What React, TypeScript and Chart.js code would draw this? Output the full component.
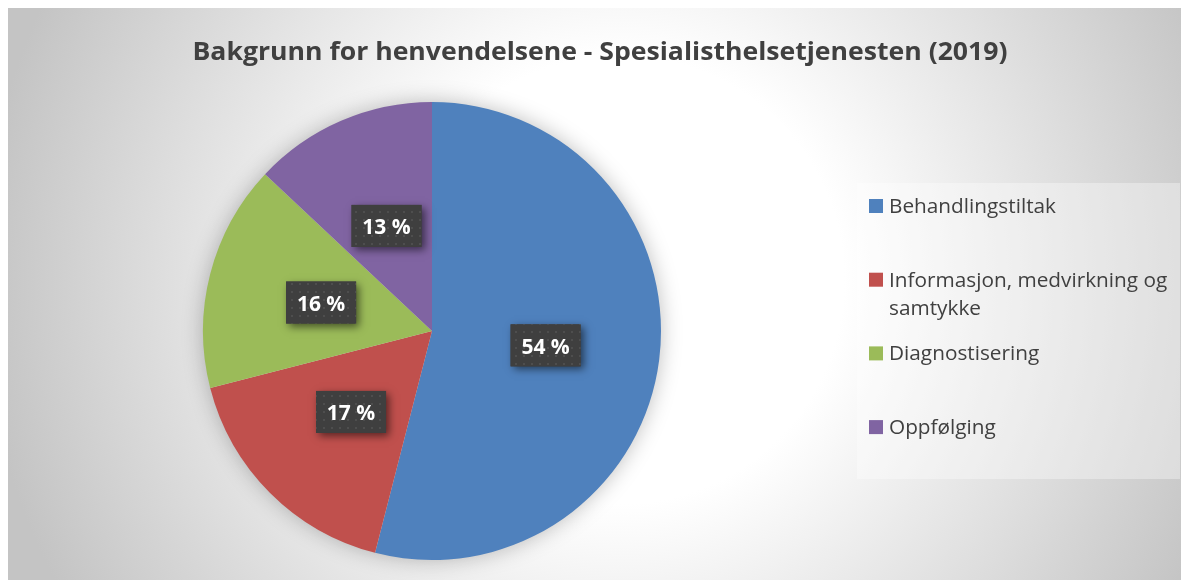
import React, { useEffect, useRef } from "react";
import { Chart, registerables } from "chart.js";

Chart.register(...registerables);

const titleText = "Bakgrunn for henvendelsene - Spesialisthelsetjenesten (2019)";
const categories = [
  "Behandlingstiltak",
  "Informasjon, medvirkning og samtykke",
  "Diagnostisering",
  "Oppfølging",
];
const values = [54, 17, 16, 13];
const sliceColors = ["#4f81bd", "#c0504d", "#9bbb59", "#8064a2"];
const valueLabels = values.map((v) => `${v} %`);

const FONT = '"Open Sans", "Noto Sans", sans-serif';
const CAP = 0.714;
const W = 1181;
const H = 572;

function scaleFor(ctx: CanvasRenderingContext2D, text: string, font: string, target: number) {
  ctx.save();
  ctx.font = font;
  const w = ctx.measureText(text).width;
  ctx.restore();
  return target / w;
}

function makePattern(ctx: CanvasRenderingContext2D) {
  const c = document.createElement("canvas");
  c.width = 8;
  c.height = 8;
  const p = c.getContext("2d")!;
  p.fillStyle = "#3f3f3f";
  p.fillRect(0, 0, 8, 8);
  p.fillStyle = "#4e4e4e";
  p.fillRect(3, 3, 2, 2);
  return ctx.createPattern(c, "repeat");
}

function wrap(ctx: CanvasRenderingContext2D, text: string, maxW: number) {
  const words = text.split(" ");
  const lines: string[] = [];
  let cur = "";
  for (const w of words) {
    const t = cur ? cur + " " + w : w;
    if (ctx.measureText(t).width > maxW && cur) {
      lines.push(cur);
      cur = w;
    } else cur = t;
  }
  if (cur) lines.push(cur);
  return lines;
}

function drawScaled(ctx: CanvasRenderingContext2D, text: string, x: number, y: number, sx: number) {
  ctx.save();
  ctx.translate(x, y);
  ctx.scale(sx, 1);
  ctx.fillText(text, 0, 0);
  ctx.restore();
}

const decorPlugin = {
  id: "decor",
  beforeDraw(chart: any) {
    const ctx: CanvasRenderingContext2D = chart.ctx;
    ctx.save();
    // background
    const g = ctx.createRadialGradient(612, 272, 0, 612, 272, 640);
    g.addColorStop(0, "#ffffff");
    g.addColorStop(0.35, "#ffffff");
    g.addColorStop(1, "#c4c4c4");
    ctx.fillStyle = g;
    ctx.fillRect(0, 0, W, H);

    // title
    const tFont = `bold ${18 / CAP}px ${FONT}`;
    const tsx = scaleFor(ctx, titleText, tFont, 815);
    ctx.font = tFont;
    ctx.fillStyle = "#404040";
    ctx.textAlign = "center";
    ctx.textBaseline = "alphabetic";
    drawScaled(ctx, titleText, 592, 52, tsx);

    // legend box
    ctx.fillStyle = "rgba(255,255,255,0.35)";
    ctx.fillRect(849, 175, 323, 296);

    const lcap = 14;
    const lFont = `normal ${lcap / CAP}px ${FONT}`;
    const lsx = scaleFor(ctx, categories[0], lFont, 167);
    ctx.font = lFont;
    ctx.textAlign = "left";
    const labels: string[] = chart.data.labels;
    const colors: string[] = chart.data.datasets[0].backgroundColor;
    labels.forEach((lab, i) => {
      const y = 198 + i * 73.7;
      ctx.fillStyle = colors[i];
      ctx.fillRect(861, y - 7, 14, 14);
      ctx.fillStyle = "#404040";
      const lines = wrap(ctx, lab, 290 / lsx);
      lines.forEach((ln, j) => drawScaled(ctx, ln, 881, y + lcap / 2 + j * 28, lsx));
    });
    ctx.restore();
  },
  beforeDatasetsDraw(chart: any) {
    const ctx: CanvasRenderingContext2D = chart.ctx;
    const arc = chart.getDatasetMeta(0).data[0];
    if (!arc) return;
    ctx.save();
    ctx.shadowColor = "rgba(0,0,0,0.28)";
    ctx.shadowBlur = 22;
    ctx.fillStyle = "#dddddd";
    ctx.beginPath();
    ctx.arc(arc.x, arc.y, arc.outerRadius - 1, 0, Math.PI * 2);
    ctx.fill();
    ctx.restore();
  },
  afterDatasetsDraw(chart: any) {
    const ctx: CanvasRenderingContext2D = chart.ctx;
    const meta = chart.getDatasetMeta(0);
    const pat = makePattern(ctx);
    const cap = 15;
    const font = `bold ${cap / CAP}px ${FONT}`;
    const sx = Math.min(1, scaleFor(ctx, valueLabels[0], font, 51));
    meta.data.forEach((el: any, i: number) => {
      const p = el.getCenterPoint();
      const bw = 70;
      const bh = 42;
      const x = p.x - bw / 2;
      const y = p.y - bh / 2;
      ctx.save();
      ctx.shadowColor = "rgba(0,0,0,0.55)";
      ctx.shadowBlur = 8;
      ctx.shadowOffsetX = 3;
      ctx.shadowOffsetY = 3;
      ctx.fillStyle = "#3f3f3f";
      ctx.fillRect(x, y, bw, bh);
      ctx.restore();
      ctx.save();
      ctx.fillStyle = pat || "#3f3f3f";
      ctx.fillRect(x, y, bw, bh);
      ctx.font = font;
      ctx.fillStyle = "#ffffff";
      ctx.textAlign = "center";
      ctx.textBaseline = "alphabetic";
      drawScaled(ctx, valueLabels[i], p.x, p.y + cap / 2 + 1, sx);
      ctx.restore();
    });
  },
};

export default function App() {
  const ref = useRef<HTMLCanvasElement | null>(null);
  useEffect(() => {
    document.documentElement.style.overflow = "hidden";
    document.body.style.overflow = "hidden";
    const canvas = ref.current!;
    const chart = new Chart(canvas, {
      type: "pie",
      data: {
        labels: categories,
        datasets: [
          {
            data: values,
            backgroundColor: sliceColors,
            borderWidth: 0,
          },
        ],
      },
      options: {
        responsive: false,
        animation: false,
        layout: { padding: { left: 195, right: 528, top: 94, bottom: 20 } },
        plugins: {
          legend: { display: false },
          title: { display: false },
          tooltip: { enabled: false },
        },
      },
      plugins: [decorPlugin],
    });
    return () => chart.destroy();
  }, []);
  return (
    <canvas
      ref={ref}
      width={W}
      height={H}
      style={{ display: "block", width: W, height: H }}
    />
  );
}
